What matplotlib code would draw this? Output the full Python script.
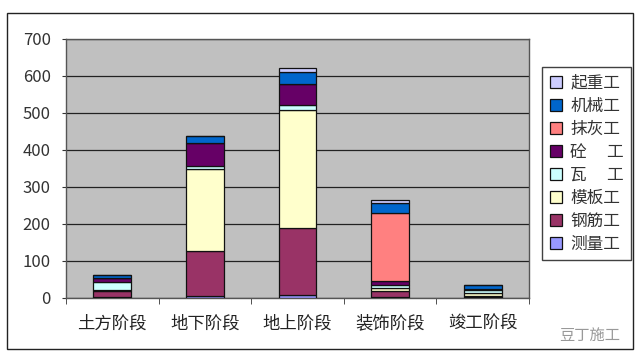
import matplotlib
matplotlib.use("Agg")
import matplotlib.pyplot as plt
from matplotlib.patches import Rectangle
import numpy as np

plt.rcParams['font.family'] = ['Noto Sans CJK SC', 'DejaVu Sans']

categories = ["土方阶段", "地下阶段", "地上阶段", "装饰阶段", "竣工阶段"]
legend_labels = ["测量工", "钢筋工", "模板工", "瓦　 工", "砼　 工", "抹灰工", "机械工", "起重工"]
celiang = [3, 5, 8, 3, 2]
gangjin = [14, 122, 180, 15, 3]
muban = [5, 220, 320, 8, 8]
wa = [20, 10, 12, 8, 8]
tong = [12, 60, 58, 10, 2]
mohui = [0, 0, 0, 185, 0]
jixie = [8, 20, 31, 27, 12]
qizhong = [0, 0, 10, 8, 0]
series_values = [celiang, gangjin, muban, wa, tong, mohui, jixie, qizhong]
colors = ["#9999FF", "#993366", "#FFFFCC", "#CCFFFF", "#660066", "#FF8080", "#0066CC", "#CCCCFF"]
yticks = [0, 100, 200, 300, 400, 500, 600, 700]

fig = plt.figure(figsize=(6.4, 3.62), dpi=100)
fig.patch.set_facecolor("white")
ax = fig.add_axes([66/640, 1-297.7/362, 463/640, (297.7-38.5)/362])
ax.set_facecolor("#C0C0C0")

x = np.arange(len(categories))
bottom = np.zeros(len(categories))
handles = []
for vals, col, lab in zip(series_values, colors, legend_labels):
    v = np.array(vals, dtype=float)
    b = ax.bar(x, v, width=0.41, bottom=bottom, color=col, edgecolor="#111111",
               linewidth=0.9, label=lab, zorder=3)
    handles.append(b)
    bottom += v

ax.set_xlim(-0.5, len(categories) - 0.5)
ax.set_ylim(0, 700)
ax.set_yticks(yticks)
ax.set_yticklabels([str(t) for t in yticks], fontsize=12, color="#333333")
ax.set_xticks(x)
ax.set_xticklabels(categories, fontsize=12.5, color="#222222")
ax.tick_params(axis='x', length=0, pad=12)
ax.set_xticks(np.arange(-0.5, len(categories), 1.0), minor=True)
ax.tick_params(axis='x', which='minor', length=4, color="#333333")
ax.tick_params(axis='y', length=3, color="#333333", pad=8)
ax.grid(axis='y', color="#222222", linewidth=0.9, zorder=1)
for s in ax.spines.values():
    s.set_color("#555555")
    s.set_linewidth(1.0)

leg = fig.legend(handles[::-1], legend_labels[::-1], loc='upper left',
                 bbox_to_anchor=(542/640, 1-67/362), fontsize=12,
                 frameon=True, fancybox=False, edgecolor="#111111",
                 handlelength=0.75, handleheight=0.75, handletextpad=0.5,
                 labelspacing=0.36, borderpad=0.45, borderaxespad=0)
leg.get_frame().set_linewidth(1.0)
for t in leg.get_texts():
    t.set_color("#333333")

fig.patches.append(Rectangle((7/640, 1-349/362), 626/640, 336/362,
                             transform=fig.transFigure, fill=False,
                             edgecolor="#222222", linewidth=1.0))
fig.text(590/640, 1-335/362, "豆丁施工", fontsize=11, color="#999999",
         ha='center', va='center')

fig.savefig("out.png", dpi=100)
